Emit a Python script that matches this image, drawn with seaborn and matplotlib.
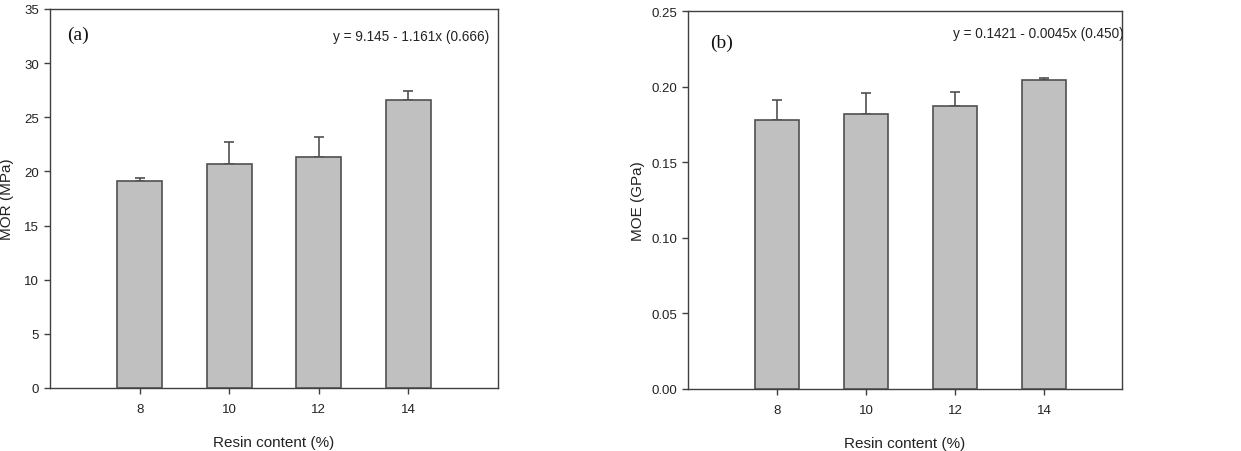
import matplotlib
matplotlib.use("Agg")
import matplotlib.pyplot as plt
import numpy as np
import pandas as pd
import seaborn as sns

sns.set_theme(style="ticks")
plt.rcParams['font.family'] = ['Liberation Sans', 'DejaVu Sans']

# Data
resin = [8, 10, 12, 14]
mor = [19.08, 20.65, 21.36, 26.59]
mor_err = [0.28, 2.10, 1.78, 0.80]
moe = [0.1783, 0.1822, 0.1875, 0.2045]
moe_err = [0.0128, 0.0135, 0.0093, 0.0016]

mor_ticks = [0, 5, 10, 15, 20, 25, 30, 35]
moe_ticks = [0.00, 0.05, 0.10, 0.15, 0.20, 0.25]

df = pd.DataFrame({'Resin': resin, 'MOR': mor, 'MOR_err': mor_err,
                   'MOE': moe, 'MOE_err': moe_err})

fig = plt.figure(figsize=(12.41, 4.52), dpi=100)
ax_a = fig.add_axes([0.0403, 0.1394, 0.3610, 0.8385])
ax_b = fig.add_axes([0.5546, 0.1372, 0.3493, 0.8356])

bar_col = '#c0c0c0'
edge_col = '#505050'
txt_col = '#222222'

panels = [
    (ax_a, 'MOR', 'MOR_err', 'MOR (MPa)', mor_ticks, (6, 16), '%g',
     'y = 9.145 - 1.161x (0.666)', '(a)', (0.0625, 0.934), (0.98, 0.929), -0.08),
    (ax_b, 'MOE', 'MOE_err', 'MOE (GPa)', moe_ticks, (6, 15.75), '%.2f',
     'y = 0.1421 - 0.0045x (0.450)', '(b)', (0.077, 0.918), (1.005, 0.942), -0.10),
]

for ax, col, ecol, ylab, yt, xl, fmt, eq, tag, tagpos, eqpos, ylx in panels:
    sns.barplot(data=df, x='Resin', y=col, native_scale=True, width=0.5,
                color=bar_col, saturation=1, edgecolor=edge_col, linewidth=1.2,
                errorbar=None, ax=ax, zorder=3)
    ax.errorbar(df['Resin'], df[col], yerr=[np.zeros(len(df)), df[ecol]],
                fmt='none', ecolor=edge_col, elinewidth=1.2, capsize=3.6,
                capthick=1.2, zorder=2)
    ax.set_xlim(*xl)
    ax.set_ylim(yt[0], yt[-1])
    ax.set_xticks(resin)
    ax.set_xticklabels([str(r) for r in resin])
    ax.set_yticks(yt)
    ax.set_yticklabels([fmt % v for v in yt])
    for s in ax.spines.values():
        s.set_visible(True)
        s.set_color('#404040')
        s.set_linewidth(1.0)
    ax.tick_params(axis='both', direction='out', length=4, width=1,
                   color='#404040', labelsize=9.5, labelcolor=txt_col,
                   top=False, right=False)
    ax.tick_params(axis='x', pad=7)
    ax.tick_params(axis='y', pad=4)
    ax.set_xlabel('Resin content (%)', fontsize=11, color=txt_col)
    ax.set_ylabel(ylab, fontsize=11, color=txt_col)
    ax.xaxis.set_label_coords(0.5, -0.125)
    ax.yaxis.set_label_coords(ylx, 0.5)
    ax.text(eqpos[0], eqpos[1], eq, transform=ax.transAxes, ha='right',
            va='center', fontsize=9.8, color=txt_col)
    ax.text(tagpos[0], tagpos[1], tag, transform=ax.transAxes, ha='center',
            va='center', fontsize=14, color='#111111',
            family=['Liberation Serif', 'DejaVu Serif'])
    ax.grid(False)

fig.savefig('out.png', dpi=100)
